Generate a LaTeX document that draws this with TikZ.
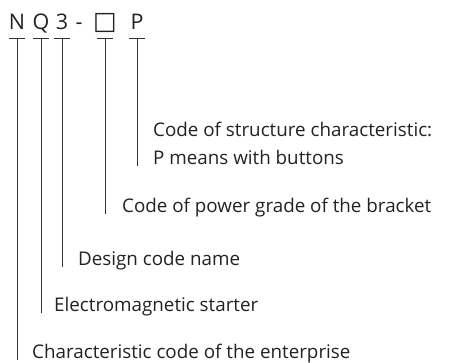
\documentclass[tikz,border=0pt]{standalone}
\usepackage{fontspec}
\setmainfont{Open Sans}
\newfontfamily\boxfont{DejaVu Sans}
\usetikzlibrary{positioning}
\definecolor{inkgray}{HTML}{222222}
\definecolor{leadgray}{HTML}{333333}

\begin{document}
\begin{tikzpicture}[x=1pt,y=-1pt,
      every node/.style={inner sep=0pt,text=inkgray},
      code/.style={font=\fontsize{21.5}{25}\selectfont,anchor=base},
      note/.style={font=\fontsize{18.8}{22}\selectfont,anchor=base west},
      lead/.style={draw=leadgray,line width=0.8pt}]
      \useasboundingbox (0,0) rectangle (467,363);
      % model code letters
      \node[code] (c_N) at (17,30) {N};
      \node[code] (c_Q) at (41,30) {Q};
      \node[code] (c_3) at (62,30) {3};
      \node[code] (c_dash) at (79,30) {-};
      \node[code] (c_box) at (105,30) {\boxfont\fontsize{25}{28}\selectfont □};
      \node[code] (c_P) at (137,30) {P};
      % meanings
      \node[note] (n_struct) at (153,137) {Code of structure characteristic:};
      \node[note] (n_struct') at (153,165) {P means with buttons};
      \node[note] (n_power) at (122,213) {Code of power grade of the bracket};
      \node[note] (n_design) at (78,266) {Design code name};
      \node[note] (n_starter) at (54,312) {Electromagnetic starter};
      \node[note] (n_ent) at (32,359) {Characteristic code of the enterprise};
      % tick bars and leaders
      \foreach \c/\n in {N/ent, Q/starter, 3/design, box/power, P/struct'} {
        \draw[lead] ([xshift=-8pt,yshift=-8pt]c_\c.base) -- ([xshift=8pt,yshift=-8pt]c_\c.base);
        \draw[lead] ([yshift=-8pt]c_\c.base) -- ([yshift=-1pt]c_\c.base |- n_\n.base);
      }
    \end{tikzpicture}
\end{document}
